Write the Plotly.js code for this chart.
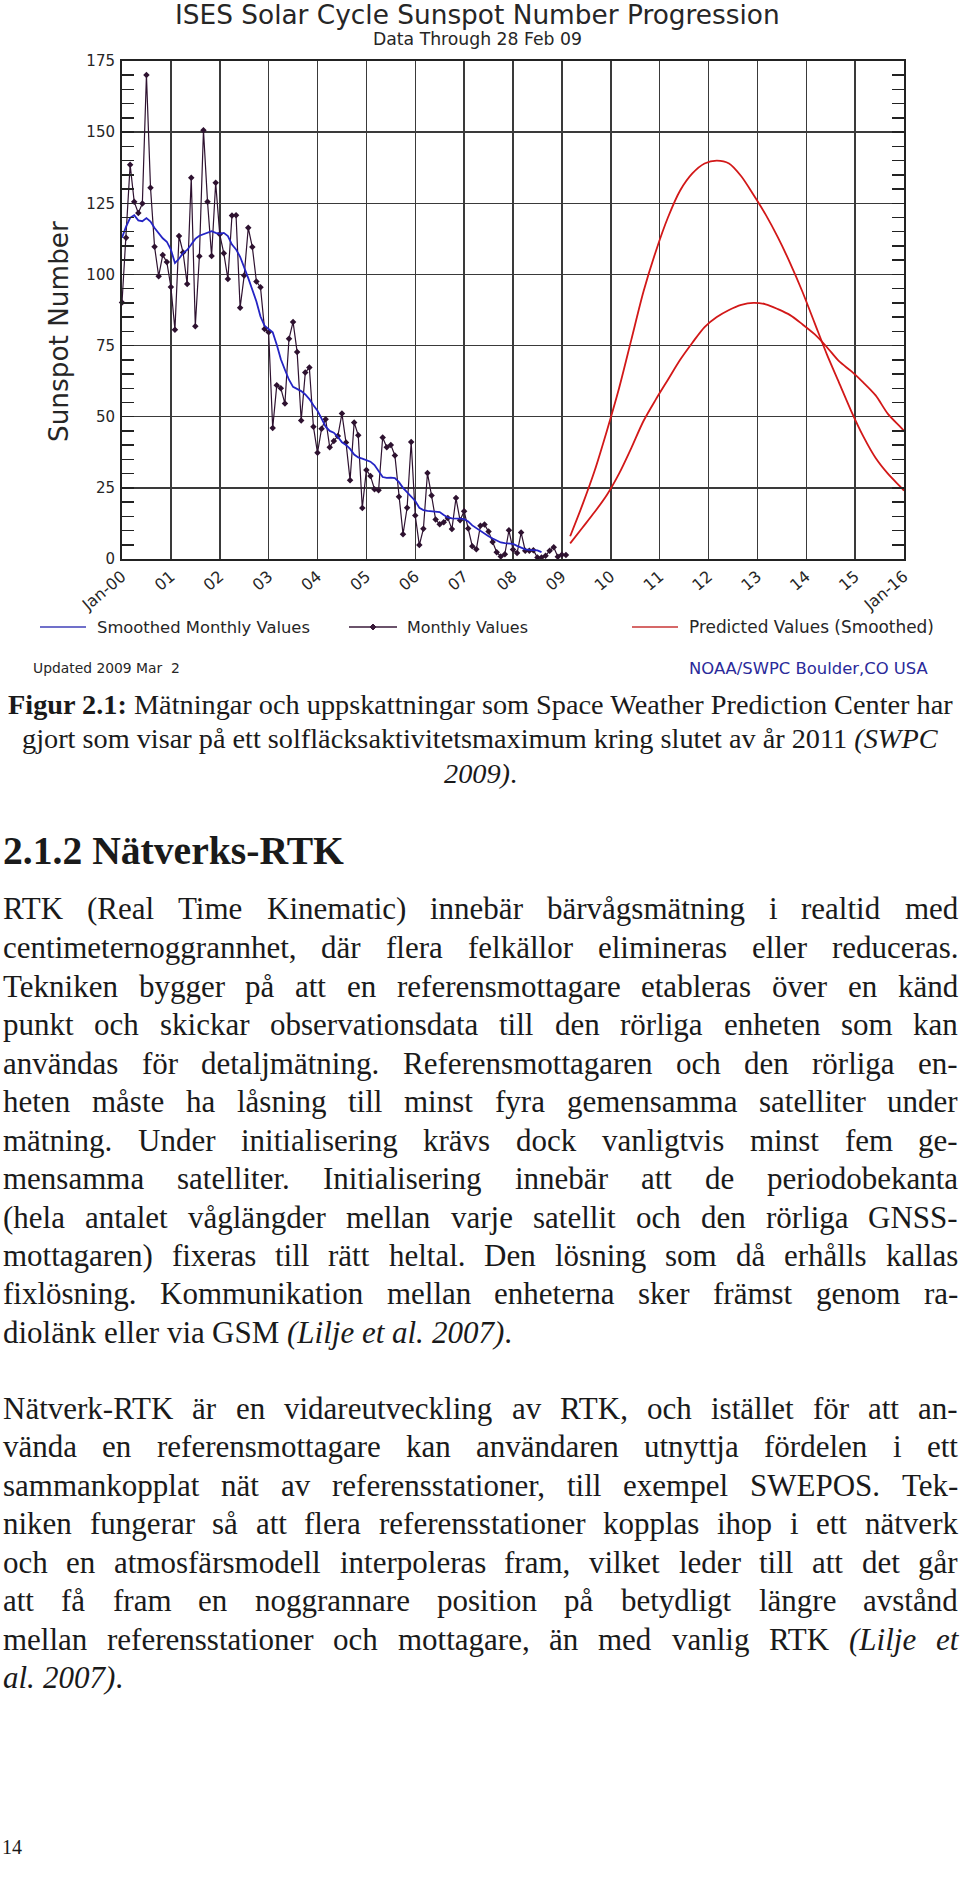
<!DOCTYPE html>
<html><head><meta charset="utf-8">
<script src="https://cdn.plot.ly/plotly-3.0.1.min.js"></script>
<style>html,body{margin:0;padding:0;background:#fff}#chart{width:960px;height:1890px}</style>
</head><body><div id="chart"></div>
<script>
// ---------------- DATA ----------------
const startYear = 2000;
const monthlyValues = [
  90.1,112.9,138.5,125.5,121.6,124.9,170.1,130.5,109.7,99.4,106.8,104.4,
  95.6,80.6,113.5,107.7,96.6,134.0,81.8,106.4,150.7,125.5,106.5,132.2,
  114.1,107.4,98.4,120.7,120.8,88.3,99.6,116.4,109.6,97.5,95.5,80.8,
  79.7,46.0,61.1,60.0,54.6,77.4,83.3,72.7,48.7,65.5,67.3,46.5,
  37.3,45.8,49.1,39.3,41.5,43.2,51.1,40.9,27.7,48.0,43.5,17.9,
  31.3,29.2,24.5,24.2,42.7,39.3,40.1,36.4,21.9,8.7,18.0,41.1,
  15.3,4.9,10.6,30.2,22.3,13.9,12.2,12.9,14.4,10.5,21.4,13.6,
  16.8,10.7,4.5,3.4,11.7,12.1,9.7,6.0,2.4,0.9,1.7,10.1,
  3.3,2.1,9.3,2.9,2.9,3.1,0.5,0.5,1.1,2.9,4.1,0.8,
  1.5,1.4
];
const smoothedValues = [
  112.9,116.8,119.9,120.8,119.0,118.7,119.8,118.6,116.3,114.5,112.7,111.5,
  108.7,104.0,105.5,107.5,108.6,110.5,112.5,113.6,114.1,114.5,115.2,114.6,
  114.3,114.6,113.5,110.5,108.8,106.2,102.7,98.7,94.6,90.5,85.2,82.0,
  80.8,79.7,75.3,70.2,66.5,63.0,60.5,59.7,59.0,57.8,56.2,54.0,
  52.1,49.3,46.5,45.0,44.4,42.9,41.0,40.1,38.7,36.7,35.7,35.3,
  34.7,34.2,33.0,31.0,28.8,28.5,28.6,28.4,27.0,25.0,23.5,22.2,
  20.4,18.0,17.2,16.9,16.8,16.7,16.5,15.5,14.6,14.3,14.3,14.2,
  14.0,13.2,11.8,10.8,9.8,8.9,8.0,7.2,6.4,5.8,5.6,5.5,
  5.3,4.6,3.9,3.4,3.2,3.1,3.0,2.4
];
const predYears = [
  2009.17,2009.42,2009.67,2009.92,2010.17,2010.42,2010.67,2010.92,
  2011.17,2011.42,2011.67,2011.92,2012.17,2012.42,2012.67,2012.92,
  2013.17,2013.42,2013.67,2013.92,2014.17,2014.42,2014.67,2014.92,
  2015.17,2015.42,2015.67,2015.92,2016.0
];
const predHigh = [8,19,31,45,60,77,94,108,120,129.5,135.5,139,140,139,134.5,128,121,113,104,94,83,72,62,52,43,35.5,30,25.5,24];
const predLow  = [5.5,11,16.5,22.5,30,39,48.5,56,63,70,76,81.5,85,87.5,89.3,90,89.5,87.8,85.7,82.5,79,74.5,69.5,66,62,57.5,51,46.5,45];
const yearTickValues = [2000,2001,2002,2003,2004,2005,2006,2007,2008,2009,2010,2011,2012,2013,2014,2015,2016];
const yearTickLabels = ['Jan-00','01','02','03','04','05','06','07','08','09','10','11','12','13','14','15','Jan-16'];

const chartTitle = 'ISES Solar Cycle Sunspot Number Progression';
const chartSubtitle = 'Data Through 28 Feb 09';
const yTitle = 'Sunspot Number';
const legendLabels = ['Smoothed Monthly Values','Monthly Values','Predicted Values (Smoothed)'];
const updatedText = 'Updated 2009 Mar  2';
const creditText = 'NOAA/SWPC Boulder,CO USA';

const captionLines = [
  '<b>Figur 2.1:</b> Mätningar och uppskattningar som Space Weather Prediction Center har',
  'gjort som visar på ett solfläcksaktivitetsmaximum kring slutet av år 2011 <i>(SWPC</i>',
  '<i>2009)</i>.'
];
const headingText = '2.1.2 Nätverks-RTK';
const para1Lines = [
  'RTK (Real Time Kinematic) innebär bärvågsmätning i realtid med',
  'centimeternoggrannhet, där flera felkällor elimineras eller reduceras.',
  'Tekniken bygger på att en referensmottagare etableras över en känd',
  'punkt och skickar observationsdata till den rörliga enheten som kan',
  'användas för detaljmätning. Referensmottagaren och den rörliga en-',
  'heten måste ha låsning till minst fyra gemensamma satelliter under',
  'mätning. Under initialisering krävs dock vanligtvis minst fem ge-',
  'mensamma satelliter. Initialisering innebär att de periodobekanta',
  '(hela antalet våglängder mellan varje satellit och den rörliga GNSS-',
  'mottagaren) fixeras till rätt heltal. Den lösning som då erhålls kallas',
  'fixlösning. Kommunikation mellan enheterna sker främst genom ra-',
  'diolänk eller via GSM <i>(Lilje et al. 2007)</i>.'
];
const para2Lines = [
  'Nätverk-RTK är en vidareutveckling av RTK, och istället för att an-',
  'vända en referensmottagare kan användaren utnyttja fördelen i ett',
  'sammankopplat nät av referensstationer, till exempel SWEPOS. Tek-',
  'niken fungerar så att flera referensstationer kopplas ihop i ett nätverk',
  'och en atmosfärsmodell interpoleras fram, vilket leder till att det går',
  'att få fram en noggrannare position på betydligt längre avstånd',
  'mellan referensstationer och mottagare, än med vanlig RTK <i>(Lilje et</i>',
  '<i>al. 2007)</i>.'
];
const pageNumber = '14';

// ---------------- LAYOUT HELPERS ----------------
const SANS = 'DejaVu Sans', SERIF = 'Liberation Serif';
const PL = 122, PW = 782, PT = 61, PH = 498, PB = PT + PH;
const px = v => (v - PL) / PW;
const py = v => (PB - v) / PH;
const ctx = document.createElement('canvas').getContext('2d');
function measure(t, size, fam, italic, bold) {
  ctx.font = (italic ? 'italic ' : '') + (bold ? 'bold ' : '') + size + 'px "' + fam + '"';
  return ctx.measureText(t).width;
}
function richWidth(str, size, fam) {
  let it = false, bd = false, w = 0;
  str.split(/(<\/?[ib]>)/).filter(p => p !== '').forEach(p => {
    if (p === '<i>') it = true; else if (p === '</i>') it = false;
    else if (p === '<b>') bd = true; else if (p === '</b>') bd = false;
    else w += measure(p, size, fam, it, bd);
  });
  return w;
}
function fit(text, target, fam, bold) {
  const b = 40; return b * target / (bold ? measure(text, b, fam, false, true) : richWidth(text, b, fam));
}
const annotations = [];
const shapes = [];
const TXT = '#1a1a1a';
function addText(text, X, Yc, size, fam, anchor, color, extra) {
  annotations.push(Object.assign({
    text: text, x: px(X), y: py(Yc), xref: 'paper', yref: 'paper', xanchor: anchor, yanchor: 'middle',
    showarrow: false, borderpad: 0, font: {family: fam, size: size, color: color || TXT}
  }, extra || {}));
}

// chart texts
const CH = '#262626';
addText(chartTitle, 477.5, 15, fit(chartTitle, 605, SANS), SANS, 'center', CH);
addText(chartSubtitle, 477, 39.5, fit(chartSubtitle, 209, SANS), SANS, 'center', CH);
addText(yTitle, 59, 332, fit(yTitle, 221, SANS), SANS, 'center', CH, {textangle: -90});
const legX = [[40, 86, 96, 213], [349, 397, 406, 121], [632, 678, 688, 245]];
const legColors = ['#4040b8', '#3a1a3a', '#c83636'];
legendLabels.forEach((l, i) => {
  const [a, b, t, w] = legX[i];
  shapes.push({type: 'line', xref: 'paper', yref: 'paper', x0: px(a), x1: px(b), y0: py(627), y1: py(627), line: {color: legColors[i], width: 1.6}});
  addText(l, t, 627, fit(l, w, SANS), SANS, 'left', CH);
});
{ const cx = 373, cy = 627, d = 3;
  shapes.push({type: 'path', xref: 'paper', yref: 'paper', fillcolor: '#3a1a3a', line: {color: '#3a1a3a', width: 1},
    path: `M ${px(cx - d)} ${py(cy)} L ${px(cx)} ${py(cy - d)} L ${px(cx + d)} ${py(cy)} L ${px(cx)} ${py(cy + d)} Z`}); }
addText(updatedText, 32, 668, fit(updatedText, 147, SANS), SANS, 'left', CH);
addText(creditText, 688, 668, fit(creditText, 239, SANS), SANS, 'left', '#2a2a9a');

// caption (centred)
const capSize = fit(captionLines[0], 946, SERIF);
const capY = [704, 738, 773];
captionLines.forEach((l, i) => addText(l, 480, capY[i], capSize, SERIF, 'center'));

// heading
addText('<b>' + headingText + '</b>', 2, 851, fit(headingText, 341, SERIF, true), SERIF, 'left');

// justified body text
const LEFT = 2, RIGHT = 957;
function words(line, size) {
  let it = false, bd = false;
  return line.split(' ').map(w => {
    const sI = it, sB = bd; let width = 0;
    w.split(/(<\/?[ib]>)/).filter(p => p !== '').forEach(p => {
      if (p === '<i>') it = true; else if (p === '</i>') it = false;
      else if (p === '<b>') bd = true; else if (p === '</b>') bd = false;
      else width += measure(p, size, SERIF, it, bd);
    });
    const html = (sB ? '<b>' : '') + (sI ? '<i>' : '') + w + (it ? '</i>' : '') + (bd ? '</b>' : '');
    return {html, width};
  });
}
const allJust = para1Lines.slice(0, -1).concat(para2Lines.slice(0, -1));
let base = 30, maxNat = 0;
allJust.forEach(l => {
  const ws = words(l, base); const sw = measure(' ', base, SERIF);
  const nat = ws.reduce((s, w) => s + w.width, 0) + sw * (ws.length - 1) * 0.75;
  maxNat = Math.max(maxNat, nat);
});
const bodySize = Math.min(31, base * (RIGHT - LEFT) / maxNat);
function setPara(lines, y0, dy) {
  lines.forEach((l, i) => {
    const ws = words(l, bodySize);
    const last = i === lines.length - 1;
    const total = ws.reduce((s, w) => s + w.width, 0);
    const gap = last ? measure(' ', bodySize, SERIF) : (RIGHT - LEFT - total) / (ws.length - 1);
    let x = LEFT;
    ws.forEach(w => { addText(w.html, x, y0 + i * dy, bodySize, SERIF, 'left'); x += w.width + gap; });
  });
}
setPara(para1Lines, 909, 38.5);
setPara(para2Lines, 1408, 38.5);
addText(pageNumber, 1, 1847, 20, SERIF, 'left');

// ---------------- TRACES ----------------
const monthX = monthlyValues.map((_, i) => startYear + i / 12);
const smoothX = smoothedValues.map((_, i) => startYear + i / 12);
const traces = [
  {x: monthX, y: monthlyValues, type: 'scatter', mode: 'lines+markers', name: legendLabels[1],
   line: {color: '#2e1230', width: 1.2}, marker: {symbol: 'diamond', size: 5, color: '#2e1230'}, cliponaxis: false},
  {x: smoothX, y: smoothedValues, type: 'scatter', mode: 'lines', name: legendLabels[0],
   line: {color: '#2424c4', width: 1.8}},
  {x: predYears, y: predHigh, type: 'scatter', mode: 'lines', name: legendLabels[2],
   line: {color: '#d21818', width: 1.8, shape: 'spline', smoothing: 0.8}},
  {x: predYears, y: predLow, type: 'scatter', mode: 'lines', name: legendLabels[2],
   line: {color: '#d21818', width: 1.8, shape: 'spline', smoothing: 0.8}}
];

const gridC = '#3a3a3a';
const layout = {
  width: 960, height: 1890,
  margin: {l: PL, r: 960 - PL - PW, t: PT, b: 1890 - PB, pad: 0},
  paper_bgcolor: '#fff', plot_bgcolor: '#fff', showlegend: false,
  xaxis: {range: [2000, 2016], tickmode: 'array', tickvals: yearTickValues, ticktext: yearTickLabels,
    tickangle: -40, showgrid: true, gridcolor: gridC, gridwidth: 1.5, showline: true, linecolor: '#222',
    linewidth: 2, mirror: true, ticks: '', zeroline: false, fixedrange: true,
    tickfont: {family: SANS, size: 16, color: CH}},
  yaxis: {range: [0, 175], tick0: 0, dtick: 25, showgrid: true, gridcolor: gridC, gridwidth: 1.5,
    showline: true, linecolor: '#222', linewidth: 2, mirror: 'allticks', ticks: 'inside', ticklen: 12,
    tickwidth: 1.5, tickcolor: '#222', zeroline: false, fixedrange: true, ticklabelstandoff: 2,
    minor: {dtick: 5, tick0: 0, ticks: 'inside', ticklen: 12, tickwidth: 1.5, tickcolor: '#222', showgrid: false},
    tickfont: {family: SANS, size: 15, color: CH}},
  annotations: annotations, shapes: shapes
};
Plotly.newPlot('chart', traces, layout, {staticPlot: true, displayModeBar: false});
</script></body></html>
